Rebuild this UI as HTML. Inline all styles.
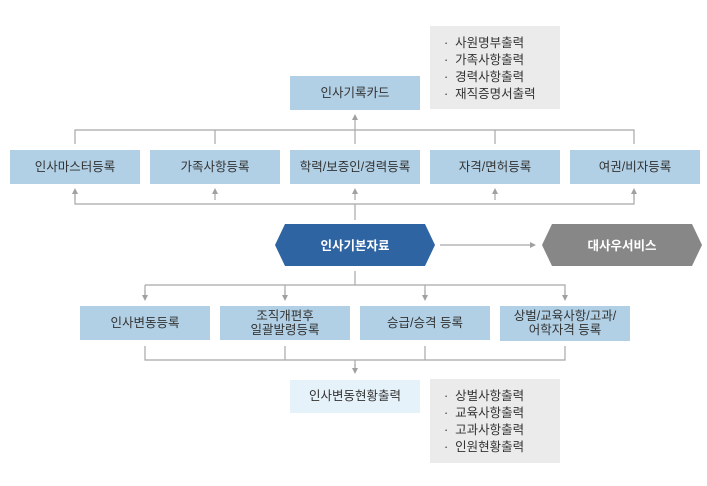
<!DOCTYPE html>
<html><head><meta charset="utf-8"><style>
html,body{margin:0;padding:0;background:#fff;}
svg{display:block;}
text{font-family:"Liberation Sans","Noto Sans CJK KR",sans-serif;font-size:12.5px;fill:#333;}
</style></head><body>
<svg width="707" height="486" viewBox="0 0 707 486">
<defs>
<marker id="a" markerWidth="6" markerHeight="6" refX="3" refY="3" orient="auto" markerUnits="userSpaceOnUse"><path d="M0,0 L6,3 L0,6 z" fill="#a0a0a0"/></marker>
</defs>
<g stroke="#a8a8a8" stroke-width="1.2" fill="none">
<path d="M75,144 V130 H634 V144 M215,130 V144 M495,130 V144"/>
<path d="M355,144 V117" marker-end="url(#a)"/>
<path d="M75,192 V204 H634 V192 M355,204 V220"/>
<path d="M75,200 V191" marker-end="url(#a)"/>
<path d="M215,200 V191" marker-end="url(#a)"/>
<path d="M355,200 V191" marker-end="url(#a)"/>
<path d="M495,200 V191" marker-end="url(#a)"/>
<path d="M634,200 V191" marker-end="url(#a)"/>
<path d="M440,245 H533" marker-end="url(#a)"/>
<path d="M355,271 V285 M145,285 H565 V297 M145,285 V297 M285,285 V297 M425,285 V297"/>
<path d="M145,290 V298" marker-end="url(#a)"/>
<path d="M285,290 V298" marker-end="url(#a)"/>
<path d="M425,290 V298" marker-end="url(#a)"/>
<path d="M565,290 V298" marker-end="url(#a)"/>
<path d="M145,346 V360 H565 V346 M285,346 V360 M425,346 V360 M355,360 V370"/>
<path d="M355,364 V371" marker-end="url(#a)"/>
</g>
<rect x="430" y="26" width="130" height="83" fill="#ebebeb"/>
<text x="444" y="47" font-size="12">·&#160; 사원명부출력</text>
<text x="444" y="64" font-size="12">·&#160; 가족사항출력</text>
<text x="444" y="81" font-size="12">·&#160; 경력사항출력</text>
<text x="444" y="98" font-size="12">·&#160; 재직증명서출력</text>
<rect x="290" y="76" width="130" height="34" fill="#b2d0e5"/>
<text x="355" y="97" text-anchor="middle">인사기록카드</text>
<g fill="#b2d0e5">
<rect x="10" y="150" width="130" height="34"/><rect x="150" y="150" width="130" height="34"/><rect x="290" y="150" width="130" height="34"/><rect x="430" y="150" width="130" height="34"/><rect x="570" y="150" width="130" height="34"/>
</g>
<text x="75" y="171" text-anchor="middle">인사마스터등록</text>
<text x="215" y="171" text-anchor="middle">가족사항등록</text>
<text x="355" y="171" text-anchor="middle">학력/보증인/경력등록</text>
<text x="495" y="171" text-anchor="middle">자격/면허등록</text>
<text x="635" y="171" text-anchor="middle">여권/비자등록</text>
<polygon points="285,224 425,224 435,245 425,266 285,266 275,245" fill="#2f64a3"/>
<text x="355" y="250" text-anchor="middle" font-size="15" font-weight="bold" style="fill:#fff">인사기본자료</text>
<polygon points="552,224 692,224 702,245 692,266 552,266 542,245" fill="#878787"/>
<text x="622" y="250" text-anchor="middle" font-weight="bold" style="fill:#fff">대사우서비스</text>
<g fill="#b2d0e5">
<rect x="80" y="306" width="130" height="34"/><rect x="220" y="306" width="130" height="34"/><rect x="360" y="306" width="130" height="34"/><rect x="500" y="306" width="130" height="35"/>
</g>
<text x="145" y="327" text-anchor="middle">인사변동등록</text>
<text x="285" y="320" text-anchor="middle">조직개편후</text>
<text x="285" y="334" text-anchor="middle">일괄발령등록</text>
<text x="425" y="327" text-anchor="middle">승급/승격 등록</text>
<text x="565" y="320" text-anchor="middle">상벌/교육사항/고과/</text>
<text x="565" y="334" text-anchor="middle">어학자격 등록</text>
<rect x="290" y="380" width="130" height="33" fill="#e6f2fa"/>
<text x="355" y="400" text-anchor="middle">인사변동현황출력</text>
<rect x="430" y="379" width="130" height="84" fill="#ebebeb"/>
<text x="444" y="400" font-size="12">·&#160; 상벌사항출력</text>
<text x="444" y="417" font-size="12">·&#160; 교육사항출력</text>
<text x="444" y="434" font-size="12">·&#160; 고과사항출력</text>
<text x="444" y="451" font-size="12">·&#160; 인원현황출력</text>
</svg>
</body></html>
